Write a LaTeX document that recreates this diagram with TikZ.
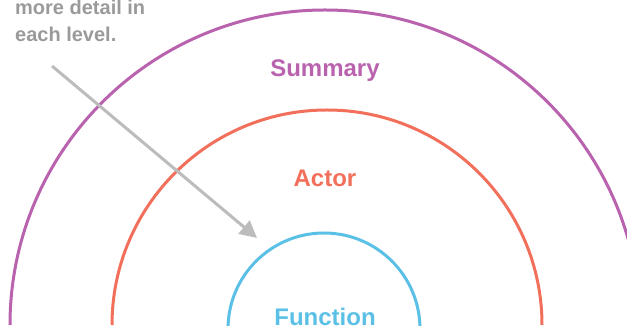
\documentclass[tikz,border=0pt]{standalone}
\usepackage{fontspec}
\setmainfont{Liberation Sans}
\usetikzlibrary{arrows.meta}
\definecolor{cpurple}{HTML}{B962AE}
\definecolor{corange}{HTML}{F2705B}
\definecolor{cblue}{HTML}{5BC0E5}
\definecolor{cgraytext}{HTML}{9A9A9A}
\definecolor{carrow}{HTML}{BCBCBC}
\tikzset{
  ring/.style={line width=3pt},
  lbl/.style={font=\fontsize{24}{28}\selectfont\bfseries, inner sep=0pt, anchor=base},
  note/.style={font=\fontsize{20}{26.5}\selectfont\bfseries, text=cgraytext, inner sep=0pt, align=left, anchor=base west},
  pointer/.style={line width=3pt, carrow, -{Triangle[length=17pt,width=17pt]}}
}
\begin{document}
\begin{tikzpicture}[x=1pt,y=1pt]
\useasboundingbox (0,0) rectangle (627,331);
\begin{scope}
\clip (0,5) rectangle (627,331);
\draw[ring, cpurple] (10,6) arc[start angle=180, end angle=0, radius=315pt];
\draw[ring, corange] (112,6) arc[start angle=180, end angle=0, radius=215pt];
\draw[ring, cblue] (228,2) arc[start angle=180, end angle=0, radius=96pt];
\end{scope}
\node[lbl, text=cpurple] (summary) at (325,254) {Summary};
\node[lbl, text=corange] (actor) at (325,144.5) {Actor};
\node[lbl, text=cblue] (function) at (325,5) {Function};
\node[note] (note) at (15,289.5) {more detail in\\each level.};
\coordinate (pstart) at (52,265);
\coordinate (pend) at (257,93);
\draw[pointer] (pstart) -- (pend);
\end{tikzpicture}
\end{document}
